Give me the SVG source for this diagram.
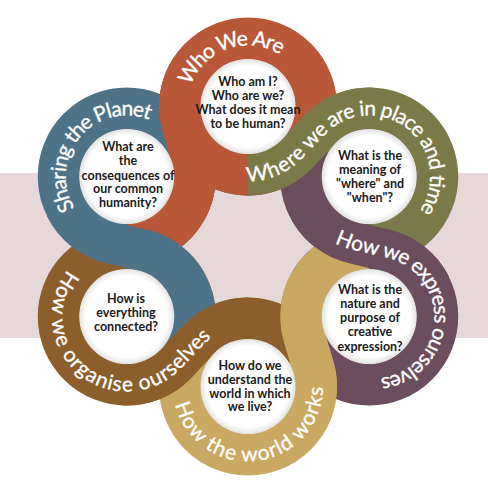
<svg xmlns="http://www.w3.org/2000/svg" width="488" height="494" viewBox="0 0 488 494">
<defs>
<style>
.band{fill:none;stroke-width:42}
.tail{fill:none;stroke-width:42;stroke-linecap:butt}
.c1{stroke:#b85839}.c2{stroke:#7a7a48}.c3{stroke:#6c4d5d}.c4{stroke:#c9a961}.c5{stroke:#8b5e2b}.c6{stroke:#4e7389}
.hole{fill:url(#holeGrad)}
.q{font-family:Lato,"Open Sans",sans-serif;font-weight:700;font-size:12.5px;fill:#1a1a1a;text-anchor:middle}
.lbl{font-family:Lato,"Open Sans",sans-serif;font-size:21px;fill:#ffffff;stroke:#ffffff;stroke-width:0.3}
</style>
<radialGradient id="holeGrad" cx="0.5" cy="0.5" r="0.5">
<stop offset="0.86" stop-color="#ffffff"/>
<stop offset="1" stop-color="#e2e2e2"/>
</radialGradient>
<path id="tp1" d="M189.11,140.5 A68,68 0 1 1 314.97,94.69"/>
<path id="tp2" d="M236.19,173.47 A68,68 0 0 0 297.14,153.51 L320.10,129.49 A68,68 0 1 1 403.24,235.39"/>
<path id="tp3" d="M325.53,228.59 A68,68 0 0 0 353.10,242.56 L385.38,250.44 A68,68 0 1 1 357.43,383.47"/>
<path id="tp4" d="M184.1,363.24 A68,68 0 1 0 311.9,363.24"/>
<path id="tp5" d="M87.76,260.8 A68,68 0 1 0 175.90,363.51 L198.86,339.49 A68,68 0 0 1 259.81,319.53"/>
<path id="tp6" d="M74.67,220.21 A68,68 0 0 1 160.76,117.61"/>
</defs>
<rect x="0" y="0" width="488" height="494" fill="#ffffff"/>
<rect x="0" y="173" width="488" height="165" fill="#e6d8d9"/>

<g id="bands">
<circle class="band c1" cx="248" cy="106.5" r="68"/>
<circle class="band c2" cx="369.24" cy="176.5" r="68"/>
<circle class="band c3" cx="369.24" cy="316.5" r="68"/>
<circle class="band c4" cx="248" cy="386.5" r="68"/>
<circle class="band c5" cx="126.76" cy="316.5" r="68"/>
<circle class="band c6" cx="126.76" cy="176.5" r="68"/>
</g>

<g id="connectors">
<path class="tail c1" d="M126.76,244.5 A68,68 0 0 0 192.04,157.45"/>
<path class="tail c2" d="M189.11,140.5 A68,68 0 0 0 297.14,153.51"/>
<path class="tail c3" d="M310.35,142.5 A68,68 0 0 0 353.10,242.56"/>
<path class="tail c4" d="M369.24,248.5 A68,68 0 0 0 303.96,335.55"/>
<path class="tail c5" d="M306.89,352.5 A68,68 0 0 0 198.86,339.49"/>
<path class="tail c6" d="M185.65,350.5 A68,68 0 0 0 142.90,250.44"/>
<path class="tail c1" d="M185.65,210.5 A68,68 0 0 0 192.04,157.45 L182.72,125.55 A68,68 0 0 1 191.44,68.74"/>
<path class="tail c1" d="M189.11,140.5 A68,68 0 0 0 248,174.5"/>
<path class="tail c2" d="M248,174.5 A68,68 0 0 0 297.14,153.51 L320.10,129.49 A68,68 0 0 1 373.66,108.64"/>
<path class="tail c3" d="M310.35,210.5 A68,68 0 0 0 353.10,242.56 L385.38,250.44 A68,68 0 0 1 430.22,286.40"/>
<path class="tail c4" d="M310.35,282.5 A68,68 0 0 0 303.96,335.55 L313.28,367.45 A68,68 0 0 1 304.56,424.26"/>
<path class="tail c5" d="M248,318.5 A68,68 0 0 0 198.86,339.49 L175.90,363.51 A68,68 0 0 1 122.34,384.36"/>
<path class="tail c6" d="M185.65,282.5 A68,68 0 0 0 142.90,250.44 L110.62,242.56 A68,68 0 0 1 65.78,206.60"/>
</g>

<g id="node-who-we-are">
<circle class="hole" cx="248" cy="106.5" r="47.5"/>
<text class="q" x="248" y="86">Who am I?</text>
<text class="q" x="248" y="100">Who are we?</text>
<text class="q" x="248" y="114">What does it mean</text>
<text class="q" x="248" y="128">to be human?</text>
<text class="lbl" dy="7"><textPath href="#tp1" startOffset="60">Who We Are</textPath></text>
</g>

<g id="node-where-we-are">
<circle class="hole" cx="369.24" cy="176.5" r="47.5"/>
<text class="q" x="370" y="160">What is the</text>
<text class="q" x="370" y="174">meaning of</text>
<text class="q" x="370" y="188">"where" and</text>
<text class="q" x="370" y="202">"when"?</text>
<text class="lbl" dy="7"><textPath href="#tp2" startOffset="10">Where we are in place and time</textPath></text>
</g>

<g id="node-how-we-express">
<circle class="hole" cx="369.24" cy="316.5" r="47.5"/>
<text class="q" x="370" y="294">What is the</text>
<text class="q" x="370" y="308">nature and</text>
<text class="q" x="370" y="322">purpose of</text>
<text class="q" x="370" y="336">creative</text>
<text class="q" x="370" y="351">expression?</text>
<text class="lbl" dy="7"><textPath href="#tp3" startOffset="14">How we express ourselves</textPath></text>
</g>

<g id="node-how-the-world-works">
<circle class="hole" cx="248" cy="386.5" r="47.5"/>
<text class="q" x="250" y="370">How do we</text>
<text class="q" x="250" y="384">understand the</text>
<text class="q" x="250" y="398">world in which</text>
<text class="q" x="250" y="411">we live?</text>
<text class="lbl" dy="7"><textPath href="#tp4" startOffset="138" text-anchor="middle">How the world works</textPath></text>
</g>

<g id="node-how-we-organise">
<circle class="hole" cx="126.76" cy="316.5" r="47.5"/>
<text class="q" x="126" y="303">How is</text>
<text class="q" x="126" y="317">everything</text>
<text class="q" x="126" y="331">connected?</text>
<text class="lbl" dy="7"><textPath href="#tp5" startOffset="19">How we organise ourselves</textPath></text>
</g>

<g id="node-sharing-the-planet">
<circle class="hole" cx="126.76" cy="176.5" r="47.5"/>
<text class="q" x="128" y="151">What are</text>
<text class="q" x="128" y="165">the</text>
<text class="q" x="128" y="180">consequences of</text>
<text class="q" x="128" y="193">our common</text>
<text class="q" x="128" y="207">humanity?</text>
<text class="lbl" dy="7"><textPath href="#tp6" startOffset="11">Sharing the Planet</textPath></text>
</g>
</svg>
